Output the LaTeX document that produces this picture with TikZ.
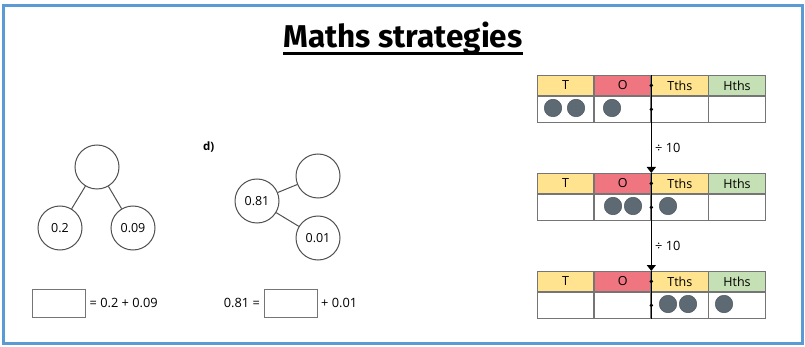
\documentclass[tikz,border=0pt]{standalone}
\usepackage{fontspec}
\setmainfont{Open Sans}
\newfontfamily\titlefont{Fira Sans}
\usepackage{xcolor}
\definecolor{FrameBlue}{HTML}{5B9BD5}
\definecolor{TenthYellow}{HTML}{FFE38F}
\definecolor{OnesRed}{HTML}{EF7580}
\definecolor{HthsGreen}{HTML}{C5E0B4}
\definecolor{CellLine}{HTML}{757575}
\definecolor{BondLine}{HTML}{505050}
\definecolor{CounterGrey}{HTML}{5E6A73}
\usepackage{tikz}
\usetikzlibrary{arrows.meta,positioning}

\begin{document}
\begin{tikzpicture}[x=1pt,y=-1pt,
  bond/.style={circle,draw=BondLine,line width=1pt,minimum size=44pt,inner sep=0pt,font=\fontsize{12.5}{15}\selectfont},
  link/.style={draw=BondLine,line width=1pt},
  blank/.style={draw=CellLine,line width=0.9pt,minimum width=53pt,minimum height=28pt,inner sep=0pt},
  sum/.style={inner sep=0pt,font=\fontsize{12.8}{15}\selectfont},
  head/.style={draw=CellLine,line width=0.9pt,minimum width=56.25pt,minimum height=20pt,inner sep=0pt,font=\fontsize{12.5}{15}\selectfont},
  cell/.style={draw=CellLine,line width=0.9pt,minimum width=56.25pt,minimum height=26pt,inner sep=0pt},
  counter/.style={circle,fill=CounterGrey,draw=CounterGrey!80!black,line width=0.5pt,minimum size=17.5pt,inner sep=0pt},
  dot/.style={circle,fill=black,minimum size=3.8pt,inner sep=0pt},
  divarrow/.style={-{Triangle[width=9pt,length=6pt]},line width=1.3pt},
  node distance=0pt
]
\useasboundingbox (0,0) rectangle (805,347);
\draw[FrameBlue,line width=3pt] (3,5.5) rectangle (802,343);

% title
\node[anchor=base,inner sep=0pt,font=\titlefont\bfseries\fontsize{31.5}{36}\selectfont] (title) at (403,48) {Maths strategies};
\draw[line width=3pt] ([yshift=-5.5pt]title.base west) -- ([yshift=-5.5pt]title.base east);

% part-whole models
\node[bond] (whole1) at (97,167) {};
\node[bond] (part1a) at (60,228) {0.2};
\node[bond] (part1b) at (133,228) {0.09};
\draw[link] (whole1) -- (part1a);
\draw[link] (whole1) -- (part1b);

\node[anchor=west,inner sep=0pt,font=\bfseries\fontsize{11.5}{13}\selectfont] (qd) at (203,147) {d)};
\node[bond] (part2a) at (257,201) {0.81};
\node[bond] (whole2) at (318,176) {};
\node[bond] (part2b) at (318,238) {0.01};
\draw[link] (part2a) -- (whole2);
\draw[link] (part2a) -- (part2b);

% number sentences
\node[blank] (ans1) at (58.5,303) {};
\node[sum,right=4pt of ans1] (eq1) {= 0.2 + 0.09};
\node[blank] (ans2) at (291,303) {};
\node[sum,left=4pt of ans2] (eq2a) {0.81 =};
\node[sum,right=3pt of ans2] (eq2b) {+ 0.01};

% place value charts
\foreach \k/\y in {1/75,2/173,3/271}{
  \node[head,fill=TenthYellow,anchor=north west] (t\k-T) at (537,\y) {T};
  \node[head,fill=OnesRed,right=of t\k-T] (t\k-O) {O};
  \node[head,fill=TenthYellow,right=of t\k-O] (t\k-Tt) {Tths};
  \node[head,fill=HthsGreen,right=of t\k-Tt] (t\k-H) {Hths};
  \node[cell,below=of t\k-T] (t\k-Tb) {};
  \node[cell,below=of t\k-O] (t\k-Ob) {};
  \node[cell,below=of t\k-Tt] (t\k-Ttb) {};
  \node[cell,below=of t\k-H] (t\k-Hb) {};
}
\draw[divarrow] (t1-O.north east) -- (t2-O.north east);
\draw[divarrow] (t2-O.north east) -- (t3-O.north east);
\draw[line width=1.3pt] (t3-O.north east) -- (t3-Ob.south east);
\node[sum,anchor=west] (div1) at (655,148) {÷ 10};
\node[sum,anchor=west] (div2) at (655,246) {÷ 10};
\foreach \k in {1,2,3}{
  \node[dot] at (t\k-O.east) {};
  \node[dot] at (t\k-Ob.east) {};
}

\node[counter] (c1a) at (553,108) {};
\node[counter] (c1b) at (576,108) {};
\node[counter] (c1c) at (612,108) {};
\node[counter] (c2a) at (613,206) {};
\node[counter] (c2b) at (633,206) {};
\node[counter] (c2c) at (668,206) {};
\node[counter] (c3a) at (668,304) {};
\node[counter] (c3b) at (688,304) {};
\node[counter] (c3c) at (724,304) {};
\end{tikzpicture}
\end{document}
